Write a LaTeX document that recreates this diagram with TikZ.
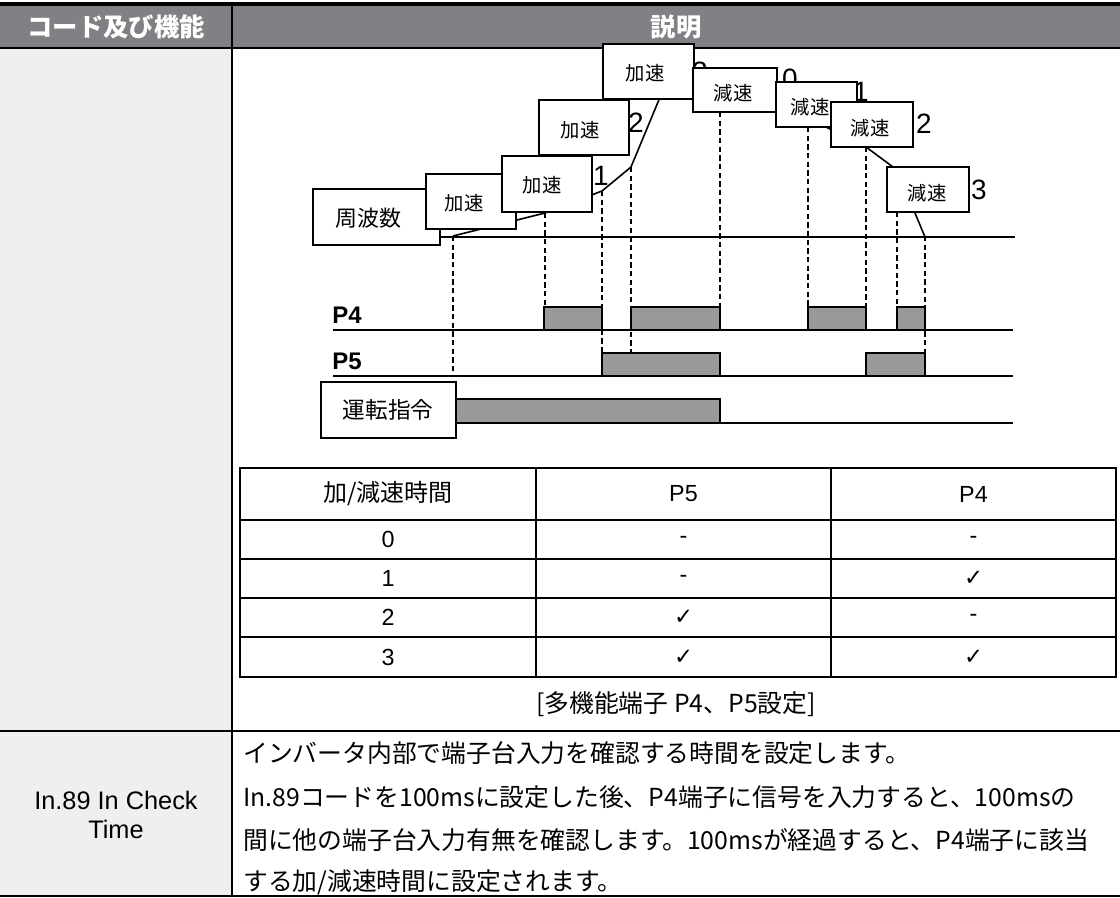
\documentclass[tikz,border=0pt]{standalone}
\usepackage{fontspec}
\setmainfont{Liberation Sans}
\newfontfamily\jp{Noto Sans CJK JP}
\newfontfamily\dv{DejaVu Sans}
\newcommand\myfs[1]{\fontsize{#1}{#1}\selectfont}
\definecolor{hdr}{HTML}{808184}
\definecolor{lcol}{HTML}{EFEFEF}
\definecolor{pulse}{HTML}{999999}
\begin{document}
\begin{tikzpicture}[x=0.75pt,y=-0.75pt,
  frame/.style={line width=1.4pt},
  tb/.style={draw=black,fill=white,line width=1.1pt,inner sep=0pt},
  thk/.style={line width=1.6pt},
  dsh/.style={line width=0.9pt,dash pattern=on 4pt off 2.5pt},
  pls/.style={fill=pulse,draw=black,line width=1.1pt},
  curve/.style={line width=1.2pt,line join=round},
  boxtxt/.style={font=\jp\myfs{14.5}},
  digit/.style={font=\myfs{21}},
  cell/.style={font=\myfs{17.5}},
  chk/.style={font=\dv\myfs{17}},
  body/.style={font=\jp\myfs{18.6},anchor=west,inner sep=0pt},
]
\useasboundingbox (0,0) rectangle (1120,898);

% ---------- outer table ----------
\fill[hdr] (0,4) rectangle (1120,48);
\fill[lcol] (0,48) rectangle (232,896);
\draw[line width=2.6pt] (0,4) -- (1120,4);
\draw[frame] (0,48) -- (1120,48);
\draw[frame] (0,731) -- (1120,731);
\draw[frame] (0,896) -- (1120,896);
\draw[frame] (232,4) -- (232,896);
\node[font=\jp\bfseries\myfs{19},text=white] (h1) at (116,27) {コード及び機能};
\node[font=\jp\bfseries\myfs{19},text=white] (h2) at (676,27) {説明};

% ---------- dashed guides ----------
\draw[dsh] (453,236) -- (453,376);
\draw[dsh] (545,213) -- (545,307);
\draw[dsh] (602,191) -- (602,353);
\draw[dsh] (631,167) -- (631,353);
\draw[dsh] (720,112) -- (720,307);
\draw[dsh] (808,127) -- (808,307);
\draw[dsh] (866,147) -- (866,307);
\draw[dsh] (897,212) -- (897,307);
\draw[dsh] (925,236) -- (925,353);

% ---------- frequency curve and labels ----------
\draw[thk] (440,237) -- (1015,237);
\draw[curve] (453,236) -- (545,213) -- (602,191) -- (631,167) -- (668,78)
  -- (719,78) -- (808,118) -- (866,147) -- (897,170) -- (925,237);
\node[digit] (n1) at (601,176) {1};
\node[digit] (n2) at (636,123) {2};
\node[digit] (n3) at (700,72) {3};
\node[digit] (n0) at (790,79) {0};
\node[digit] (m1) at (861,92) {1};
\node[digit] (m2) at (924,124) {2};
\node[digit] (m3) at (979,190) {3};

% ---------- label boxes ----------
\node[tb,minimum width=95.25pt,minimum height=42pt] (fq) at (376.5,217) {};
\node[boxtxt,font=\jp\myfs{16.5}] (fqt) at (368,218) {周波数};
\node[tb,minimum width=67.5pt,minimum height=41.25pt] (a1) at (471,201.5) {};
\node[boxtxt] (a1t) at (464,203) {加速};
\node[tb,minimum width=67.5pt,minimum height=42pt] (a2) at (547,184) {};
\node[boxtxt] (a2t) at (542,185) {加速};
\node[tb,minimum width=67.5pt,minimum height=41.25pt] (a3) at (584,127.5) {};
\node[boxtxt] (a3t) at (580,130) {加速};
\node[tb,minimum width=68.25pt,minimum height=41.25pt] (a4) at (648.5,71.5) {};
\node[boxtxt] (a4t) at (645,73) {加速};
\node[tb,minimum width=63pt,minimum height=33pt] (d1) at (735,90) {};
\node[boxtxt] (d1t) at (733,93) {減速};
\node[tb,minimum width=60.75pt,minimum height=33.75pt] (d2) at (816.5,104.5) {};
\node[boxtxt] (d2t) at (810,107) {減速};
\node[tb,minimum width=61.5pt,minimum height=33.75pt] (d3) at (872,124.5) {};
\node[boxtxt] (d3t) at (870,128) {減速};
\node[tb,minimum width=61.5pt,minimum height=33.75pt] (d4) at (928,189.5) {};
\node[boxtxt] (d4t) at (927,193) {減速};

% ---------- P4 / P5 / run ----------
\node[font=\bfseries\myfs{18},anchor=west,inner sep=0pt] (p4) at (332,315) {P4};
\node[font=\bfseries\myfs{18},anchor=west,inner sep=0pt] (p5) at (332,361) {P5};
\draw[thk] (333,330) -- (1013,330);
\draw[thk] (333,376) -- (1013,376);
\draw[pls] (544,307) rectangle (602,330);
\draw[pls] (631,307) rectangle (720,330);
\draw[pls] (808,307) rectangle (866,330);
\draw[pls] (897,307) rectangle (925,330);
\draw[pls] (602,353) rectangle (720,376);
\draw[pls] (866,353) rectangle (925,376);
\draw[thk] (720,423) -- (1013,423);
\draw[pls] (456,399) rectangle (720,423);
\node[tb,minimum width=101.25pt,minimum height=42pt] (run) at (388.5,410) {};
\node[font=\jp\myfs{17}] (runt) at (388,410) {運転指令};

% ---------- inner table ----------
\draw[frame] (240,468) rectangle (1116,677);
\draw[frame] (240,520) -- (1116,520);
\draw[frame] (240,559) -- (1116,559);
\draw[frame] (240,598) -- (1116,598);
\draw[frame] (240,637) -- (1116,637);
\draw[frame] (536,468) -- (536,677);
\draw[frame] (831,468) -- (831,677);
\node[font=\jp\myfs{18}] (c00) at (388,494) {加/減速時間};
\node[cell] (c01) at (683.5,494) {P5};
\node[cell] (c02) at (973.5,494) {P4};
\node[cell] (c10) at (388,539.5) {0};
\node[cell] (c11) at (683.5,539.5) {-};
\node[cell] (c12) at (973.5,539.5) {-};
\node[cell] (c20) at (388,578.5) {1};
\node[cell] (c21) at (683.5,578.5) {-};
\node[chk] (c22) at (973.5,578.5) {✓};
\node[cell] (c30) at (388,617.5) {2};
\node[chk] (c31) at (683.5,617.5) {✓};
\node[cell] (c32) at (973.5,617.5) {-};
\node[cell] (c40) at (388,657) {3};
\node[chk] (c41) at (683.5,657) {✓};
\node[chk] (c42) at (973.5,657) {✓};
\node[font=\jp\myfs{18.6}] (cap) at (676,704) {[多機能端子 P4、P5設定]};

% ---------- second row ----------
\node[font=\myfs{19}] (code1) at (116,800) {In.89 In Check};
\node[font=\myfs{19}] (code2) at (116,829) {Time};
\node[body] (b1) at (243,753) {インバータ内部で端子台入力を確認する時間を設定します。};
\node[body] (b2) at (243,797) {In.89コードを100msに設定した後、P4端子に信号を入力すると、100msの};
\node[body] (b3) at (243,840) {間に他の端子台入力有無を確認します。100msが経過すると、P4端子に該当};
\node[body] (b4) at (243,882) {する加/減速時間に設定されます。};
\end{tikzpicture}
\end{document}
